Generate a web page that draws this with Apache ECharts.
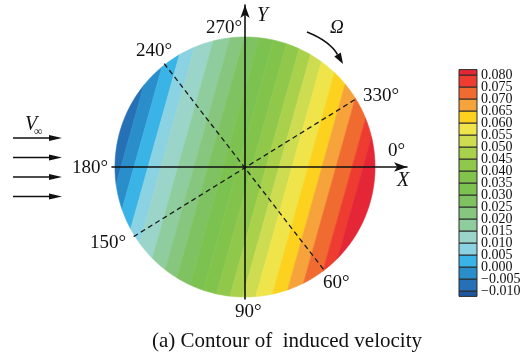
<!DOCTYPE html>
<html>
<head>
<meta charset="utf-8">
<script src="https://cdn.jsdelivr.net/npm/echarts@6/dist/echarts.min.js"></script>
<style>
  html, body { margin: 0; padding: 0; background: #ffffff; }
  #chart { width: 532px; height: 357px; }
</style>
</head>
<body>
<div id="chart"></div>
<script>
// Contour levels of the induced velocity
const levels = [-0.010, -0.005, 0.000, 0.005, 0.010, 0.015, 0.020, 0.025, 0.030, 0.035,
                0.040, 0.045, 0.050, 0.055, 0.060, 0.065, 0.070, 0.075, 0.080];
// Where each contour line crosses the X axis (rotor radius = 1)
const isoCrossX = [-1.04, -0.954, -0.854, -0.746, -0.646, -0.515, -0.392, -0.285, -0.169, -0.054,
                   0.054, 0.162, 0.262, 0.362, 0.485, 0.592, 0.700, 0.823, 0.908];
// Fill colours, from below the lowest level up to above the highest level
const bandColors = ['#1f56a0', '#2670b6', '#2a8ecb', '#3ab4e6', '#8bd2e2', '#9bd5c9', '#8fcc9e',
                    '#86c67e', '#7fc262', '#7cc250', '#82c44b', '#8fc84a', '#a9d14b', '#cedc51',
                    '#efe54b', '#fcd21f', '#f6a33b', '#f06b2f', '#ee3c31', '#e52636'];
// Contour lines lean: X shift per unit of Y
const isoSlope = 0.28;
// Dashed azimuth reference lines, screen-clockwise degrees from +X
const refLines = [[232, 52.5], [148, 328.5]];

const SERIF = 'Liberation Serif, Times New Roman, serif';

// Unit circle as a polygon
const circle = [];
for (let k = 0; k < 360; k++) {
  const a = k * Math.PI / 180;
  circle.push([Math.cos(a), Math.sin(a)]);
}

// Keep the part of a polygon where f(p) >= 0
function clipHalf(poly, f) {
  const out = [];
  for (let i = 0; i < poly.length; i++) {
    const a = poly[i], b = poly[(i + 1) % poly.length];
    const fa = f(a), fb = f(b);
    if (fa >= 0) out.push(a);
    if ((fa >= 0) !== (fb >= 0)) {
      const t = fa / (fa - fb);
      out.push([a[0] + t * (b[0] - a[0]), a[1] + t * (b[1] - a[1])]);
    }
  }
  return out;
}

const along = p => p[0] - isoSlope * p[1];

function renderBand(params, api) {
  const i = api.value(0);
  let poly = circle;
  if (i > 0) poly = clipHalf(poly, p => along(p) - isoCrossX[i - 1]);
  if (i < isoCrossX.length) poly = clipHalf(poly, p => isoCrossX[i] - along(p));
  if (poly.length < 3) return null;
  return {
    type: 'polygon',
    shape: { points: poly.map(p => api.coord(p)) },
    style: { fill: bandColors[i], stroke: bandColors[i], lineWidth: 0.6 }
  };
}

function fmtLevel(v) {
  const s = Math.abs(v).toFixed(3);
  return (v < -1e-9 ? '\u2212' : '') + s;
}

// Colour bar: one box per band, the level value written at each box edge
const step = levels[1] - levels[0];
function renderLegendBox(params, api) {
  const i = api.value(0);
  const lo = i === 0 ? levels[0] - 0.45 * step : levels[i - 1];
  const hi = i === levels.length ? levels[levels.length - 1] + 0.45 * step : levels[i];
  const p1 = api.coord([0, hi]);
  const p2 = api.coord([1, lo]);
  const children = [{
    type: 'rect',
    shape: { x: p1[0], y: p1[1], width: p2[0] - p1[0], height: p2[1] - p1[1] },
    style: { fill: bandColors[i], stroke: '#2b2b2b', lineWidth: 1 }
  }];
  if (i < levels.length) {
    const t = api.coord([1, levels[i]]);
    children.push({
      type: 'text', z2: 5,
      style: {
        x: t[0] + 4, y: t[1] + 0.5, text: fmtLevel(levels[i]),
        fill: '#111', font: '14px ' + SERIF,
        textAlign: 'left', textVerticalAlign: 'middle'
      }
    });
  }
  return { type: 'group', children: children };
}

function rayPoint(deg) {
  const a = deg * Math.PI / 180;
  return [1.01 * Math.cos(a), -1.01 * Math.sin(a)];
}

function txt(text, x, y, opt) {
  return {
    type: 'text', x: x, y: y, z: 20,
    style: Object.assign({
      text: text, fill: '#111', font: '19px ' + SERIF,
      textAlign: 'left', textVerticalAlign: 'middle'
    }, opt || {})
  };
}

function flowArrow(y) {
  return [
    { type: 'line', z: 20, shape: { x1: 13, y1: y, x2: 52, y2: y }, style: { stroke: '#111', lineWidth: 1.5 } },
    { type: 'polygon', z: 20, shape: { points: [[49, y - 3], [62, y], [49, y + 3]] }, style: { fill: '#111' } }
  ];
}

const graphics = [
  txt('270°', 242, 28, { textAlign: 'right' }),
  txt('Y', 257, 16, { font: 'italic 20px ' + SERIF }),
  txt('\u03a9', 330, 28, { font: 'italic 19px ' + SERIF }),
  txt('240°', 172, 51, { textAlign: 'right' }),
  txt('330°', 363, 96),
  txt('0°', 388, 151),
  txt('X', 397, 181, { font: 'italic 20px ' + SERIF }),
  txt('180°', 108, 168, { textAlign: 'right' }),
  txt('150°', 126, 243, { textAlign: 'right' }),
  txt('60°', 323, 283),
  txt('90°', 235, 312),
  txt('(a) Contour of  induced velocity', 152, 341, { font: '21px ' + SERIF }),
  txt('V', 25, 125, { font: 'italic 20px ' + SERIF }),
  txt('\u221e', 34, 132, { font: '12px ' + SERIF }),
  { type: 'bezierCurve', z: 20,
    shape: { x1: 307, y1: 32, cpx1: 329.7, cpy1: 41.1, x2: 337.5, y2: 54.5 },
    style: { stroke: '#111', lineWidth: 1.5, fill: null } },
  { type: 'polygon', z: 20,
    shape: { points: [[340.8, 52.6], [343, 64], [334.3, 56.4]] },
    style: { fill: '#111' } }
].concat(flowArrow(138), flowArrow(157.5), flowArrow(177), flowArrow(196.5));

const chart = echarts.init(document.getElementById('chart'), null, { renderer: 'canvas' });

chart.setOption({
  animation: false,
  backgroundColor: '#ffffff',
  grid: [
    { left: 112, top: 5, width: 295, height: 294 },
    { left: 459, top: 75, width: 18, height: 216 }
  ],
  xAxis: [
    {
      gridIndex: 0, type: 'value', min: -1.023, max: 1.246, z: 10,
      axisLine: { show: true, onZero: true, symbol: ['none', 'arrow'], symbolSize: [7, 13],
                  lineStyle: { color: '#111', width: 1.6 } },
      axisTick: { show: false }, axisLabel: { show: false }, splitLine: { show: false }
    },
    { gridIndex: 1, type: 'value', min: 0, max: 1, show: false }
  ],
  yAxis: [
    {
      gridIndex: 0, type: 'value', min: -1.015, max: 1.246, z: 10,
      axisLine: { show: true, onZero: true, symbol: ['none', 'arrow'], symbolSize: [7, 13],
                  lineStyle: { color: '#111', width: 1.6 } },
      axisTick: { show: false }, axisLabel: { show: false }, splitLine: { show: false }
    },
    {
      gridIndex: 1, type: 'value', min: levels[0], max: levels[levels.length - 1], interval: step,
      show: false
    }
  ],
  series: [
    {
      type: 'custom', name: 'contour', xAxisIndex: 0, yAxisIndex: 0,
      renderItem: renderBand, clip: false,
      data: bandColors.map((c, i) => [i])
    },
    {
      type: 'custom', name: 'legend', xAxisIndex: 1, yAxisIndex: 1,
      renderItem: renderLegendBox, clip: false,
      data: bandColors.map((c, i) => [i])
    }
  ].concat(refLines.map((pair, k) => ({
    type: 'line', name: 'azimuth' + k, xAxisIndex: 0, yAxisIndex: 0, z: 5,
    symbol: 'none', silent: true,
    lineStyle: { color: '#1a1a1a', width: 1.3, type: [5, 3.5] },
    data: [rayPoint(pair[0]), rayPoint(pair[1])]
  }))),
  graphic: graphics
});
</script>
</body>
</html>
